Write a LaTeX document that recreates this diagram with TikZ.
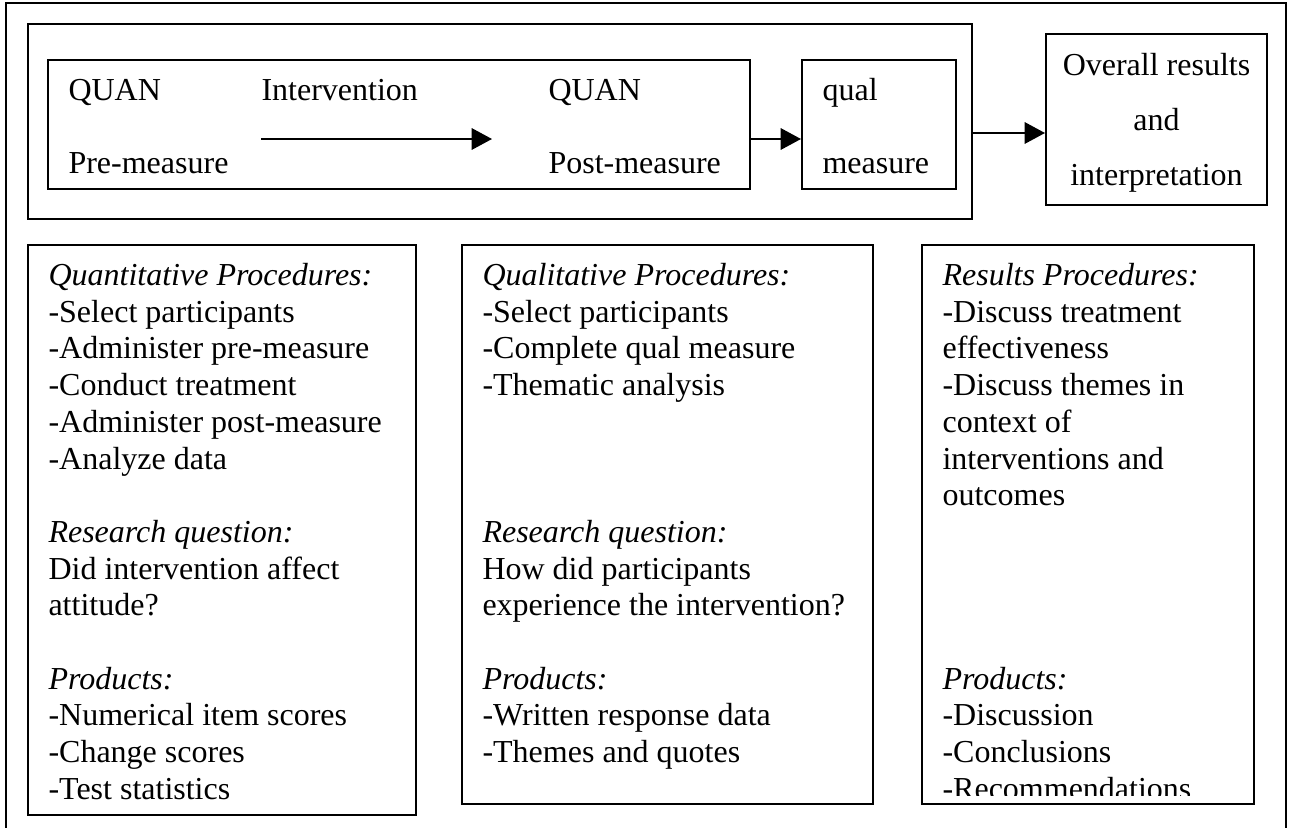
\documentclass[tikz,border=0pt]{standalone}
\usepackage{fontspec}
\setmainfont{Liberation Serif}
\usetikzlibrary{arrows.meta,fit}
\begin{document}
\begin{tikzpicture}[x=0.375pt,y=-0.375pt,
  box/.style={draw, line width=0.75pt, inner sep=0pt},
  txt/.style={anchor=base west, inner sep=0pt, font=\fontsize{12}{13.8}\selectfont},
  ctxt/.style={anchor=base, inner sep=0pt, font=\fontsize{12}{13.8}\selectfont},
  arr/.style={line width=0.75pt, -{Triangle[length=7.6pt,width=8pt]}}]
\useasboundingbox (0,0) rectangle (1289,828);
% outer frame (open at the bottom)
\draw[line width=0.75pt] (6,828) -- (6,3) -- (1286,3) -- (1286,828);
% top row
\node[box, fit={(28,24) (972,219)}] (topbox) {};
\node[box, fit={(48,60) (750,189)}] (quanbox) {};
\node[box, fit={(802,60) (956,189)}] (qualbox) {};
\node[box, fit={(1046,34) (1267,205)}] (overall) {};
\node[txt] (quan1) at (68,100) {QUAN};
\node[txt] (interv) at (261,100) {Intervention};
\node[txt] (quan2) at (548,100) {QUAN};
\node[txt] (pre) at (68,173) {Pre-measure};
\node[txt] (post) at (548,173) {Post-measure};
\node[txt] (qual1) at (822,100) {qual};
\node[txt] (qual2) at (822,173) {measure};
\node[ctxt] (ov1) at (1156.5,75) {Overall results};
\node[ctxt] (ov2) at (1156.5,130) {and};
\node[ctxt] (ov3) at (1156.5,185) {interpretation};
\coordinate (ia) at (261,139);
\coordinate (ib) at (492,139);
\coordinate (oa) at (0,133);
\draw[arr] (ia) -- (ib);
\draw[arr] (quanbox.east |- ia) -- (qualbox.west |- ia);
\draw[arr] (topbox.east |- oa) -- (overall.west |- oa);
% lower boxes
\node[box, fit={(28,245) (416,815)}] (b1) {};
\node[box, fit={(462,245) (873,804)}] (b2) {};
\node[box, fit={(922,245) (1254,804)}] (b3) {};
\foreach \i/\t in {1/{\textit{Quantitative Procedures:}}, 2/{-Select participants},
  3/{-Administer pre-measure}, 4/{-Conduct treatment}, 5/{-Administer post-measure},
  6/{-Analyze data}, 8/{\textit{Research question:}}, 9/{Did intervention affect},
  10/{attitude?}, 12/{\textit{Products:}}, 13/{-Numerical item scores},
  14/{-Change scores}, 15/{-Test statistics}}
  \node[txt] (ba\i) at (48,{285.5+36.7*(\i-1)}) {\t};
\foreach \i/\t in {1/{\textit{Qualitative Procedures:}}, 2/{-Select participants},
  3/{-Complete qual measure}, 4/{-Thematic analysis}, 8/{\textit{Research question:}},
  9/{How did participants}, 10/{experience the intervention?}, 12/{\textit{Products:}},
  13/{-Written response data}, 14/{-Themes and quotes}}
  \node[txt] (bb\i) at (482,{285.5+36.7*(\i-1)}) {\t};
\begin{scope}
  \clip (922,245) rectangle (1254,795);
  \foreach \i/\t in {1/{\textit{Results Procedures:}}, 2/{-Discuss treatment},
    3/{effectiveness}, 4/{-Discuss themes in}, 5/{context of}, 6/{interventions and},
    7/{outcomes}, 12/{\textit{Products:}}, 13/{-Discussion}, 14/{-Conclusions},
    15/{-Recommendations}}
    \node[txt] (bc\i) at (942,{285.5+36.7*(\i-1)}) {\t};
\end{scope}
\end{tikzpicture}
\end{document}
